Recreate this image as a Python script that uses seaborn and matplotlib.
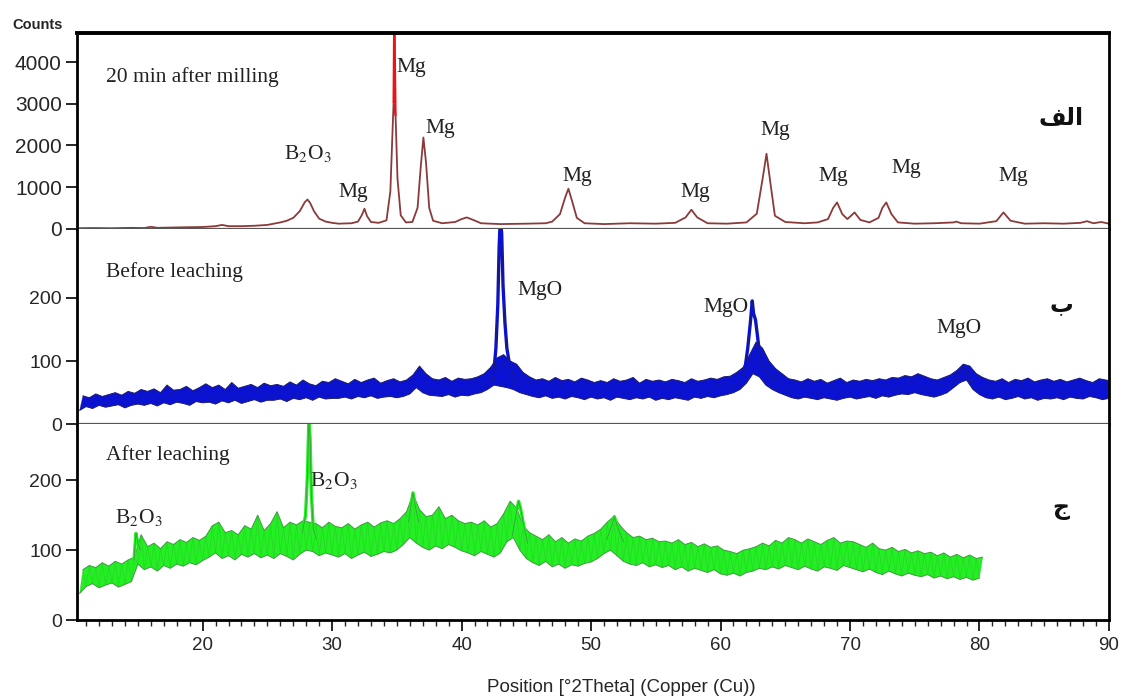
import matplotlib
matplotlib.use("Agg")
import matplotlib.pyplot as plt
import numpy as np
import seaborn as sns
from matplotlib.ticker import MultipleLocator

# --- top pattern: 20 min after milling (counts) ---
top_x = [10.3, 11.5, 13.0, 14.5, 15.5, 16.0, 16.5, 18.0, 20.0, 21.0, 21.5, 22.0,
         23.0, 24.0, 25.0, 25.5, 26.0, 26.5, 27.0, 27.5, 27.9, 28.1, 28.3, 28.6,
         29.0, 29.5, 30.0, 30.5, 31.5, 32.0, 32.3, 32.5, 32.7, 33.0, 33.6, 34.2,
         34.5, 34.65, 34.75, 34.9, 35.05, 35.3, 35.7, 36.2, 36.6, 36.85, 37.05,
         37.25, 37.5, 37.8, 38.5, 39.5, 40.0, 40.4, 40.9, 41.5, 43.0, 45.0, 46.5,
         47.0, 47.6, 48.0, 48.25, 48.5, 48.9, 49.5, 51.0, 53.0, 55.0, 56.5, 57.3,
         57.75, 58.2, 59.0, 60.5, 62.0, 62.8, 63.25, 63.55, 63.85, 64.2, 65.0,
         66.5, 67.5, 68.3, 68.7, 69.0, 69.4, 69.8, 70.35, 70.8, 71.5, 72.2, 72.5,
         72.8, 73.2, 73.7, 75.0, 76.5, 78.0, 78.2, 78.6, 80.0, 81.3, 81.85, 82.4,
         83.5, 85.0, 86.5, 87.8, 88.3, 88.8, 89.4, 90.0]
top_y = [10, 15, 10, 20, 15, 45, 20, 30, 40, 60, 90, 60,
         60, 70, 90, 120, 150, 190, 260, 420, 640, 700, 620, 420,
         240, 170, 140, 120, 130, 170, 330, 480, 300, 160, 140, 200,
         900, 2200, 3040, 2720, 1200, 320, 150, 160, 500, 1500, 2190,
         1600, 500, 190, 130, 160, 230, 270, 210, 130, 110, 120, 130,
         170, 350, 750, 960, 700, 260, 130, 110, 130, 120, 140, 270,
         455, 270, 130, 120, 150, 360, 1200, 1800, 1100, 310, 160,
         130, 150, 230, 500, 630, 350, 230, 390, 210, 150, 260, 500,
         630, 350, 150, 120, 130, 150, 170, 130, 120, 180, 390, 190,
         120, 130, 120, 140, 180, 130, 160, 120]
spike_x = [34.75, 34.8, 34.9]
spike_y = [3040, 5200, 2720]

# --- middle pattern: before leaching (noise band, lower / upper edges) ---
mid_x = np.arange(10.5, 90.01, 0.5)
mid_lo = [22, 28, 25, 30, 27, 29, 31, 26, 30, 32,
          30, 33, 29, 34, 31, 35, 33, 30, 36, 34,
          35, 32, 37, 34, 38, 33, 36, 39, 35, 38,
          38, 40, 36, 41, 39, 42, 38, 43, 40, 41,
          41, 43, 40, 44, 42, 45, 41, 43, 44, 42,
          44, 48, 58, 50, 46, 45, 44, 47, 43, 46,
          45, 48, 50, 55, 62, 60, 58, 55, 50, 47,
          44, 42, 45, 41, 43, 40, 44, 42, 39, 43,
          40, 42, 38, 43, 41, 39, 42, 40, 43, 38,
          41, 39, 42, 40, 38, 43, 41, 44, 42, 45,
          47, 50, 55, 65, 80, 75, 62, 55, 50, 46,
          42, 40, 43, 41, 39, 42, 40, 38, 41, 43,
          40, 42, 44, 41, 45, 43, 46, 48, 47, 50,
          47, 45, 43, 46, 50, 58, 66, 70, 55, 47,
          42, 40, 43, 39, 41, 44, 40, 42, 38, 41,
          40, 42, 39, 43, 41, 40, 44, 42, 39, 41]
mid_hi = [45, 42, 48, 44, 47, 50, 46, 52, 49, 55,
          52, 56, 50, 62, 54, 55, 60, 53, 58, 64,
          58, 62, 55, 66, 57, 60, 63, 58, 65, 61,
          63, 60, 67, 62, 70, 64, 61, 68, 66, 72,
          68, 64, 71, 66, 70, 73, 65, 69, 72, 67,
          70, 78, 92, 80, 72, 70, 74, 68, 73, 71,
          72, 75, 80, 90, 105, 110, 100, 95, 82, 75,
          70, 72, 68, 74, 69, 71, 67, 73, 70, 66,
          69, 66, 72, 68, 70, 74, 65, 71, 68, 70,
          67, 71, 69, 66, 72, 68, 70, 73, 71, 75,
          76, 82, 90, 110, 130, 120, 100, 88, 80, 72,
          70, 67, 72, 68, 71, 65, 69, 73, 66, 70,
          68, 71, 69, 72, 70, 74, 73, 77, 75, 80,
          76, 72, 70, 74, 78, 85, 95, 92, 80, 74,
          70, 68, 72, 66, 71, 69, 73, 67, 70, 72,
          68, 71, 67, 70, 73, 69, 66, 72, 70, 68]
mid_peaks = [
    ([42.3, 42.5, 42.65, 42.8, 42.9, 43.0, 43.1, 43.2, 43.35, 43.5, 43.7, 44.0, 44.4],
     [65, 85, 120, 190, 280, 330, 300, 220, 160, 120, 95, 80, 70]),
    ([61.6, 61.9, 62.1, 62.3, 62.45, 62.55, 62.7, 62.85, 63.0, 63.3, 63.7, 64.2],
     [75, 90, 120, 160, 195, 175, 165, 140, 115, 95, 80, 68]),
    ([77.8, 78.2, 78.5, 78.8, 79.1, 79.5],
     [62, 72, 82, 92, 75, 64]),
]

# --- bottom pattern: after leaching ---
bot_x = np.arange(10.5, 80.01, 0.5)
bot_lo = [38, 48, 52, 46, 50, 53, 47, 51, 55, 80,
          72, 76, 70, 78, 74, 80, 77, 82, 79, 85,
          90, 96, 88, 92, 86, 94, 90, 95, 89, 93,
          88, 95, 91, 86, 94, 100, 98, 92, 96, 93,
          90, 95, 88, 93, 97, 91, 94, 98, 96, 100,
          108, 118, 110, 104, 100, 106, 102, 108, 104, 99,
          96, 92, 98, 94, 90, 96, 112, 118, 100, 88,
          82, 78, 84, 76, 80, 74, 79, 77, 81, 83,
          88, 95, 100, 92, 84, 80, 78, 82, 76, 79,
          75, 78, 72, 76, 70, 74, 71, 68, 72, 66,
          64, 67, 63, 68, 70, 74, 72, 76, 73, 78,
          75, 72, 77, 73, 70, 76, 74, 71, 78, 75,
          72, 69, 73, 68, 65, 70, 66, 63, 67, 64,
          62, 65, 60, 63, 59, 62, 58, 61, 57, 60]
bot_hi = [72, 78, 75, 82, 77, 84, 80, 86, 90, 122,
          105, 110, 102, 112, 108, 115, 111, 118, 114, 120,
          135, 140, 125, 128, 122, 135, 130, 150, 128, 138,
          155, 132, 140, 136, 142, 140, 138, 132, 140, 134,
          132, 138, 130, 136, 140, 133, 139, 142, 138, 145,
          155, 180, 158, 148, 150, 162, 145, 150, 142, 138,
          140, 136, 142, 133, 138, 152, 170, 160, 135, 125,
          120, 115, 122, 112, 118, 110, 116, 113, 120, 124,
          130, 140, 148, 135, 125, 118, 120, 115, 117, 112,
          113, 110, 115, 108, 111, 105, 109, 104, 106, 100,
          98, 95, 100, 102, 105, 110, 106, 114, 110, 118,
          115, 110, 116, 112, 108, 114, 118, 110, 113, 112,
          108, 104, 110, 102, 100, 104, 98, 101, 96, 99,
          95, 97, 92, 96, 90, 94, 89, 93, 88, 90]
bot_peaks = [
    ([14.7, 14.85, 15.0, 15.2], [85, 124, 110, 100]),
    ([27.7, 27.95, 28.1, 28.2, 28.3, 28.4, 28.55, 28.8],
     [125, 150, 210, 285, 260, 180, 130, 115]),
    ([35.9, 36.1, 36.25, 36.45, 36.7], [140, 165, 182, 160, 140]),
    ([43.9, 44.2, 44.4, 44.55, 44.8, 45.1], [120, 150, 170, 160, 135, 110]),
    ([51.2, 51.6, 51.8, 52.1, 52.5], [115, 135, 148, 130, 112]),
]

# --- labels ---
top_labels = [(28.1, 1807, "B$_2$O$_3$"), (31.66, 870, "Mg"), (36.14, 3880, "Mg"),
              (38.38, 2410, "Mg"), (48.96, 1250, "Mg"), (58.07, 870, "Mg"),
              (64.25, 2360, "Mg"), (68.73, 1250, "Mg"), (74.36, 1445, "Mg"),
              (82.63, 1250, "Mg")]
mid_labels = [(46.02, 211, "MgO"), (60.46, 184, "MgO"), (78.45, 151, "MgO")]
bot_labels = [(15.06, 146, "B$_2$O$_3$"), (30.12, 199, "B$_2$O$_3$")]
panel_titles = ["20 min after milling", "Before leaching", "After leaching"]
# Arabic panel letters (presentation forms, visual order)
panel_letters = ["\ufed2\ufedf\ufe8d", "\ufe8f", "\ufe9d"]

sns.set_style("ticks")
plt.rcParams["font.family"] = ["Liberation Sans", "DejaVu Sans"]
plt.rcParams["mathtext.fontset"] = "stix"

fig, axes = plt.subplots(3, 1, sharex=True, figsize=(11.23, 6.99), dpi=100)
fig.subplots_adjust(left=0.0686, right=0.9875, top=0.9528, bottom=0.113, hspace=0)
ax1, ax2, ax3 = axes

serif = dict(family=["Liberation Serif", "DejaVu Serif"], fontsize=15.5, color="#222222")

# top panel
sns.lineplot(x=top_x, y=top_y, ax=ax1, color="#8b3a3a", lw=1.3, estimator=None, sort=False)
sns.lineplot(x=spike_x, y=spike_y, ax=ax1, color="#e8141a", lw=1.6, estimator=None, sort=False)
ax1.set_ylim(0, 4700)
ax1.set_yticks([0, 1000, 2000, 3000, 4000])


def noisy(ax, x, lo, hi, peaks, light, dark):
    # band: lower edge at the grid, upper edge half a step later
    xu = x + 0.25
    ax.fill(np.r_[xu, x[::-1]], np.r_[hi, lo[::-1]], color=light, lw=0)
    zx = np.column_stack([x, xu]).ravel()
    zy = np.column_stack([lo, hi]).ravel()
    sns.lineplot(x=zx, y=zy, ax=ax, color=dark, lw=0.5, alpha=0.35,
                 estimator=None, sort=False)
    sns.lineplot(x=xu, y=hi, ax=ax, color=dark, lw=0.7, estimator=None, sort=False)
    sns.lineplot(x=x, y=lo, ax=ax, color=dark, lw=0.7, estimator=None, sort=False)
    for px, py in peaks:
        sns.lineplot(x=px, y=py, ax=ax, color=light, lw=2.4, estimator=None, sort=False)
        sns.lineplot(x=px, y=py, ax=ax, color=dark, lw=0.6, estimator=None, sort=False)


noisy(ax2, mid_x, np.array(mid_lo), np.array(mid_hi), mid_peaks, "#0a12d8", "#1b1b6e")
ax2.set_ylim(0, 309)
ax2.set_yticks([0, 100, 200])

noisy(ax3, bot_x, np.array(bot_lo), np.array(bot_hi), bot_peaks, "#22f022", "#3c9c3c")
ax3.set_ylim(0, 280)
ax3.set_yticks([0, 100, 200])

for ax, labels in zip(axes, [top_labels, mid_labels, bot_labels]):
    for x, y, t in labels:
        ax.text(x, y, t, ha="center", va="center", **serif)

title_y = [3640, 240, 236]
letter_y = [2670, 189, 161]
for ax, title, ty, letter, ly in zip(axes, panel_titles, title_y, panel_letters, letter_y):
    ax.text(12.5, ty, title, ha="left", va="center", **serif)
    ax.text(86.3, ly, letter, ha="center", va="center", fontsize=17,
            fontweight="bold", family=["DejaVu Sans"], color="#111111")

ax3.set_xlim(10.3, 90)
ax3.xaxis.set_minor_locator(MultipleLocator(1))
ax3.set_xticks([20, 30, 40, 50, 60, 70, 80, 90])
ax3.tick_params(axis="x", which="major", length=8, width=1.4, labelsize=13.5, pad=4)
ax3.tick_params(axis="x", which="minor", length=4, width=1.0)
ax3.set_xlabel("Position [°2Theta] (Copper (Cu))", fontsize=13.5, va="center")
ax3.xaxis.set_label_coords(0.527, -0.347)

for ax, size in zip(axes, [15, 14, 14]):
    ax.tick_params(axis="y", length=8, width=1.4, labelsize=size, pad=3)
    for side in ["left", "right"]:
        ax.spines[side].set_visible(True)
        ax.spines[side].set_linewidth(2)
        ax.spines[side].set_color("black")
    ax.set_ylabel("")
ax1.tick_params(axis="x", which="both", bottom=False)
ax2.tick_params(axis="x", which="both", bottom=False)

ax1.spines["top"].set_visible(True)
ax1.spines["top"].set_linewidth(2.8)
ax1.spines["top"].set_color("black")
for ax in [ax1, ax2]:
    ax.spines["bottom"].set_color("#555555")
    ax.spines["bottom"].set_linewidth(1.6)
for ax in [ax2, ax3]:
    ax.spines["top"].set_visible(False)
ax3.spines["bottom"].set_linewidth(2)
ax3.spines["bottom"].set_color("black")

fig.text(12 / 1123, 1 - 25 / 699, "Counts", ha="left", va="center",
         fontsize=10.5, fontweight="bold")

fig.savefig("out.png", dpi=100)
